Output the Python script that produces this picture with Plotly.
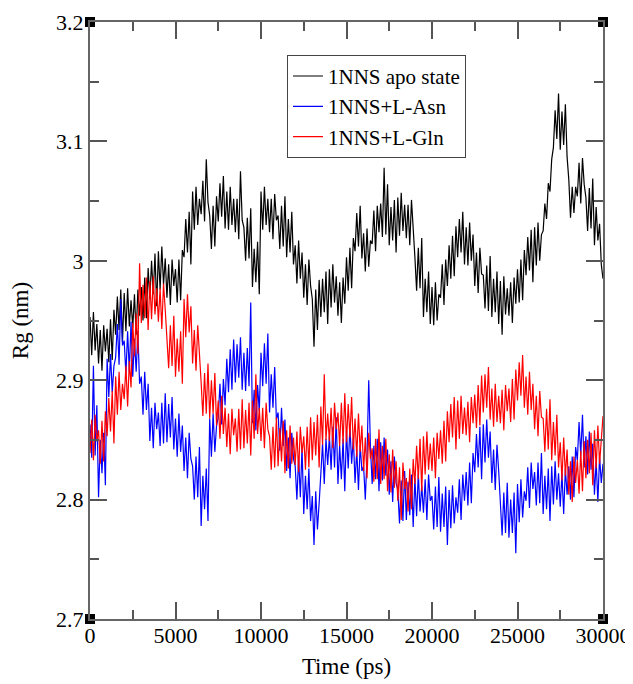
import plotly.graph_objects as go

# Time axis (ps): one sample every 100 ps from 0 to 30000
time_ps = [i * 100 for i in range(301)]

apo_state = [
    2.953, 2.921, 2.957, 2.925, 2.947, 2.914, 2.942, 2.908, 2.946, 2.924,
    2.943, 2.915, 2.951, 2.917, 2.959, 2.938, 2.970, 2.942, 2.976, 2.932,
    2.973, 2.941, 2.977, 2.945, 2.967, 2.944, 2.972, 2.938, 2.976, 2.954,
    2.978, 2.950, 2.986, 2.952, 2.994, 2.968, 3.000, 2.972, 3.006, 2.962,
    3.008, 2.976, 3.012, 2.980, 3.002, 2.969, 2.997, 2.963, 3.001, 2.979,
    2.993, 2.965, 3.001, 2.967, 3.009, 3.003, 3.035, 3.007, 3.041, 2.997,
    3.058, 3.026, 3.062, 3.030, 3.052, 3.039, 3.067, 3.033, 3.085, 3.049,
    3.038, 3.010, 3.046, 3.012, 3.054, 3.033, 3.065, 3.037, 3.071, 3.027,
    3.058, 3.026, 3.062, 3.030, 3.052, 3.024, 3.052, 3.018, 3.075, 3.034,
    3.028, 3.000, 3.036, 3.002, 3.044, 2.978, 3.010, 2.982, 3.016, 2.972,
    3.058, 3.026, 3.062, 3.030, 3.052, 3.024, 3.052, 3.018, 3.056, 3.034,
    3.038, 3.010, 3.046, 3.012, 3.054, 3.003, 3.035, 3.007, 3.041, 2.997,
    3.013, 2.981, 3.017, 2.985, 3.007, 2.969, 2.997, 2.963, 3.001, 2.979,
    2.968, 2.928, 2.976, 2.942, 2.984, 2.953, 2.985, 2.957, 2.991, 2.947,
    2.993, 2.961, 2.997, 2.965, 2.987, 2.954, 2.982, 2.948, 2.986, 2.964,
    3.003, 2.975, 3.011, 2.977, 3.019, 3.008, 3.040, 3.012, 3.046, 3.002,
    3.023, 2.991, 3.027, 2.995, 3.017, 3.014, 3.042, 3.008, 3.046, 3.024,
    3.048, 3.020, 3.078, 3.022, 3.064, 3.013, 3.045, 3.017, 3.051, 3.007,
    3.053, 3.021, 3.057, 3.025, 3.047, 3.019, 3.047, 3.013, 3.051, 3.029,
    3.003, 2.975, 3.011, 2.977, 3.019, 2.953, 2.985, 2.957, 2.991, 2.947,
    2.978, 2.946, 2.982, 2.950, 2.972, 2.969, 2.997, 2.963, 3.001, 2.979,
    3.013, 2.985, 3.021, 2.987, 3.029, 3.003, 3.035, 3.007, 3.041, 2.997,
    3.028, 2.996, 3.032, 3.000, 3.022, 2.979, 3.007, 2.973, 3.011, 2.989,
    2.988, 2.960, 2.996, 2.958, 3.004, 2.953, 2.985, 2.957, 2.991, 2.947,
    2.983, 2.938, 2.987, 2.955, 2.977, 2.954, 2.982, 2.948, 2.986, 2.964,
    2.993, 2.965, 3.001, 2.967, 3.009, 2.988, 3.020, 2.992, 3.026, 2.982,
    3.028, 2.996, 3.032, 3.000, 3.022, 3.025, 3.048, 3.035, 3.065, 3.058,
    3.085, 3.095, 3.126, 3.102, 3.140, 3.093, 3.125, 3.097, 3.131, 3.087,
    3.068, 3.036, 3.062, 3.040, 3.062, 3.054, 3.082, 3.048, 3.086, 3.064,
    3.053, 3.025, 3.061, 3.027, 3.069, 3.013, 3.045, 3.017, 3.031, 2.997,
    2.985,
]

l_asn = [
    2.863, 2.835, 2.912, 2.837, 2.879, 2.802, 2.850, 2.822, 2.856, 2.812,
    2.918, 2.886, 2.922, 2.890, 2.912, 2.919, 2.947, 2.913, 2.968, 2.929,
    2.933, 2.905, 2.941, 2.907, 2.949, 2.903, 2.935, 2.907, 2.941, 2.897,
    2.903, 2.871, 2.907, 2.875, 2.897, 2.849, 2.877, 2.843, 2.881, 2.859,
    2.873, 2.845, 2.881, 2.847, 2.889, 2.848, 2.880, 2.852, 2.886, 2.842,
    2.868, 2.836, 2.872, 2.840, 2.862, 2.824, 2.852, 2.818, 2.856, 2.834,
    2.828, 2.800, 2.836, 2.802, 2.844, 2.778, 2.820, 2.792, 2.826, 2.782,
    2.868, 2.836, 2.872, 2.840, 2.862, 2.869, 2.897, 2.863, 2.901, 2.879,
    2.918, 2.890, 2.926, 2.892, 2.934, 2.898, 2.930, 2.902, 2.936, 2.892,
    2.923, 2.891, 2.927, 2.895, 2.965, 2.864, 2.892, 2.858, 2.896, 2.874,
    2.923, 2.895, 2.931, 2.897, 2.939, 2.873, 2.905, 2.877, 2.911, 2.867,
    2.873, 2.841, 2.877, 2.845, 2.867, 2.824, 2.852, 2.818, 2.856, 2.834,
    2.828, 2.800, 2.836, 2.802, 2.844, 2.788, 2.820, 2.792, 2.826, 2.782,
    2.803, 2.762, 2.807, 2.775, 2.797, 2.819, 2.847, 2.813, 2.851, 2.829,
    2.853, 2.825, 2.861, 2.827, 2.869, 2.813, 2.845, 2.817, 2.851, 2.807,
    2.858, 2.826, 2.862, 2.830, 2.852, 2.814, 2.842, 2.808, 2.846, 2.824,
    2.828, 2.800, 2.836, 2.900, 2.844, 2.813, 2.845, 2.817, 2.851, 2.807,
    2.848, 2.816, 2.852, 2.820, 2.842, 2.804, 2.832, 2.798, 2.836, 2.814,
    2.808, 2.780, 2.816, 2.782, 2.824, 2.783, 2.815, 2.787, 2.821, 2.777,
    2.818, 2.786, 2.822, 2.790, 2.812, 2.789, 2.817, 2.783, 2.821, 2.799,
    2.803, 2.775, 2.811, 2.777, 2.819, 2.773, 2.805, 2.777, 2.811, 2.762,
    2.808, 2.776, 2.812, 2.780, 2.802, 2.789, 2.817, 2.783, 2.821, 2.799,
    2.823, 2.795, 2.831, 2.797, 2.839, 2.823, 2.855, 2.827, 2.861, 2.817,
    2.863, 2.831, 2.867, 2.835, 2.857, 2.814, 2.842, 2.808, 2.846, 2.824,
    2.798, 2.770, 2.806, 2.772, 2.814, 2.768, 2.800, 2.772, 2.806, 2.755,
    2.813, 2.781, 2.817, 2.785, 2.807, 2.799, 2.827, 2.793, 2.831, 2.809,
    2.823, 2.795, 2.831, 2.797, 2.839, 2.788, 2.820, 2.792, 2.826, 2.782,
    2.828, 2.796, 2.832, 2.800, 2.822, 2.794, 2.822, 2.788, 2.826, 2.804,
    2.828, 2.800, 2.836, 2.802, 2.844, 2.833, 2.865, 2.837, 2.871, 2.827,
    2.853, 2.821, 2.857, 2.825, 2.847, 2.804, 2.832, 2.798, 2.836, 2.814,
    2.830,
]

l_gln = [
    2.839, 2.867, 2.833, 2.871, 2.849, 2.858, 2.830, 2.866, 2.832, 2.874,
    2.853, 2.885, 2.857, 2.891, 2.847, 2.903, 2.871, 2.907, 2.875, 2.897,
    2.884, 2.912, 2.878, 2.916, 2.894, 2.948, 2.920, 2.956, 2.922, 2.998,
    2.948, 2.980, 2.952, 2.986, 2.942, 2.983, 2.951, 2.987, 2.955, 2.977,
    2.949, 2.977, 2.943, 2.981, 2.959, 2.938, 2.910, 2.946, 2.912, 2.954,
    2.903, 2.935, 2.907, 2.941, 2.897, 2.968, 2.936, 2.972, 2.940, 2.962,
    2.914, 2.942, 2.908, 2.946, 2.924, 2.898, 2.870, 2.906, 2.872, 2.914,
    2.868, 2.900, 2.872, 2.906, 2.862, 2.883, 2.851, 2.887, 2.855, 2.877,
    2.844, 2.872, 2.838, 2.876, 2.854, 2.868, 2.840, 2.876, 2.842, 2.884,
    2.843, 2.875, 2.847, 2.881, 2.837, 2.883, 2.851, 2.905, 2.855, 2.877,
    2.849, 2.877, 2.843, 2.881, 2.859, 2.853, 2.825, 2.861, 2.827, 2.869,
    2.828, 2.860, 2.832, 2.866, 2.822, 2.858, 2.826, 2.862, 2.830, 2.852,
    2.829, 2.857, 2.823, 2.861, 2.839, 2.853, 2.825, 2.861, 2.827, 2.869,
    2.833, 2.865, 2.837, 2.871, 2.827, 2.878, 2.846, 2.905, 2.850, 2.872,
    2.849, 2.877, 2.843, 2.881, 2.859, 2.873, 2.845, 2.881, 2.847, 2.889,
    2.848, 2.880, 2.852, 2.886, 2.842, 2.868, 2.836, 2.872, 2.840, 2.862,
    2.824, 2.852, 2.818, 2.856, 2.834, 2.843, 2.815, 2.851, 2.817, 2.859,
    2.813, 2.845, 2.817, 2.851, 2.807, 2.838, 2.806, 2.842, 2.810, 2.832,
    2.799, 2.827, 2.783, 2.831, 2.809, 2.818, 2.790, 2.826, 2.792, 2.834,
    2.813, 2.845, 2.817, 2.851, 2.807, 2.853, 2.821, 2.857, 2.825, 2.847,
    2.824, 2.852, 2.818, 2.856, 2.834, 2.858, 2.830, 2.866, 2.832, 2.874,
    2.848, 2.880, 2.852, 2.886, 2.842, 2.883, 2.851, 2.887, 2.855, 2.877,
    2.854, 2.882, 2.848, 2.886, 2.864, 2.888, 2.860, 2.896, 2.862, 2.904,
    2.873, 2.905, 2.877, 2.911, 2.867, 2.893, 2.861, 2.897, 2.865, 2.887,
    2.864, 2.892, 2.858, 2.896, 2.874, 2.893, 2.865, 2.901, 2.867, 2.909,
    2.883, 2.915, 2.887, 2.921, 2.877, 2.903, 2.871, 2.907, 2.875, 2.897,
    2.859, 2.887, 2.853, 2.891, 2.869, 2.868, 2.840, 2.876, 2.842, 2.884,
    2.833, 2.865, 2.837, 2.871, 2.827, 2.848, 2.816, 2.852, 2.820, 2.842,
    2.804, 2.832, 2.798, 2.836, 2.814, 2.833, 2.805, 2.841, 2.807, 2.849,
    2.818, 2.850, 2.822, 2.856, 2.812, 2.858, 2.826, 2.862, 2.830, 2.852,
    2.870,
]

series_names = ["1NNS apo state", "1NNS+L-Asn", "1NNS+L-Gln"]
series_colors = ["#000000", "#0000ff", "#ff0000"]

x_tickvals = [0, 5000, 10000, 15000, 20000, 25000, 30000]
x_ticktext = ["0", "5000", "10000", "15000", "20000", "25000", "30000"]
y_tickvals = [2.7, 2.8, 2.9, 3.0, 3.1, 3.2]
y_ticktext = ["2.7", "2.8", "2.9", "3", "3.1", "3.2"]

x_range = [0, 30000]
y_range = [2.7, 3.2]

font_family = "Liberation Serif, Times New Roman, serif"

fig = go.Figure()
for name, ys, col in zip(series_names, [apo_state, l_asn, l_gln], series_colors):
    fig.add_trace(go.Scatter(x=time_ps, y=ys, mode="lines", name=name,
                             line=dict(color=col, width=1.2)))

# corner markers (xmgrace style)
fig.add_trace(go.Scatter(
    x=[x_range[0], x_range[0], x_range[1], x_range[1]],
    y=[y_range[0], y_range[1], y_range[0], y_range[1]],
    mode="markers", showlegend=False, hoverinfo="skip", cliponaxis=False,
    marker=dict(symbol="square", size=10, color="#000000",
                line=dict(width=0))))

axis_common = dict(
    showgrid=False, zeroline=False, showline=True, linecolor="#666666",
    linewidth=2, mirror="ticks", ticks="inside", ticklen=17, tickwidth=2,
    tickcolor="#555555", automargin=False,
    tickfont=dict(family=font_family, size=22, color="#000"),
)

fig.update_xaxes(range=x_range, tickvals=x_tickvals, ticktext=x_ticktext,
                 ticklabelstandoff=-4,
                 title=dict(text="Time (ps)", font=dict(family=font_family, size=23, color="#000"),
                            standoff=10),
                 minor=dict(ticks="inside", ticklen=9, tickwidth=2, tickcolor="#555555",
                            dtick=2500, showgrid=False),
                 **axis_common)
fig.update_yaxes(range=y_range, tickvals=y_tickvals, ticktext=y_ticktext,
                 title=dict(text="Rg (nm)", font=dict(family=font_family, size=23, color="#000"),
                            standoff=23),
                 minor=dict(ticks="inside", ticklen=9, tickwidth=2, tickcolor="#555555",
                            dtick=0.05, showgrid=False),
                 **axis_common)

fig.update_layout(
    width=625, height=676,
    margin=dict(l=82, r=30, t=14, b=65, autoexpand=False),
    paper_bgcolor="#ffffff", plot_bgcolor="#ffffff",
    font=dict(family=font_family, size=22, color="#000"),
    showlegend=True,
    legend=dict(x=0.384, y=0.945, xanchor="left", yanchor="top",
                bgcolor="#ffffff", bordercolor="#444444", borderwidth=1,
                font=dict(family=font_family, size=21, color="#000"),
                tracegroupgap=0, itemwidth=30),
)

fig.write_html("out.html")
